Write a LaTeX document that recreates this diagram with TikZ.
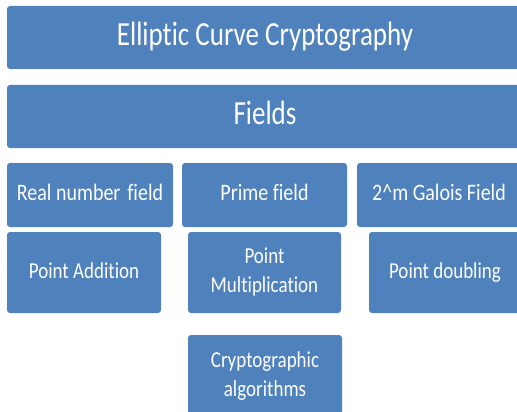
\documentclass[tikz,border=0pt]{standalone}
\usepackage{fontspec}
\setmainfont{Carlito}[Ligatures={NoCommon}]
\usepackage{graphicx}
\definecolor{boxblue}{HTML}{4F81BD}
\newcommand{\vtxt}[2]{\scalebox{1}[#1]{\begin{tabular}{@{}c@{}}#2\end{tabular}}}
\begin{document}
\begin{tikzpicture}[x=1pt,y=-1pt,
  blk/.style={fill=boxblue, rounded corners=3pt, text=white, inner sep=0pt, anchor=center},
  bigtxt/.style={font=\fontsize{27}{32}\selectfont},
  midtxt/.style={font=\fontsize{20}{24}\selectfont},
  smltxt/.style={font=\fontsize{19}{24}\selectfont}]
\useasboundingbox (0,0) rectangle (517,412);
\node[blk, bigtxt, minimum width=516pt, minimum height=63pt] (ecc) at (265,37.5) {\vtxt{1.25}{Elliptic Curve Cryptography}};
\node[blk, bigtxt, minimum width=516pt, minimum height=63pt] (fields) at (265,116.5) {\vtxt{1.25}{Fields}};
\node[blk, midtxt, minimum width=166pt, minimum height=64pt] (real) at (90,195) {\vtxt{1.18}{Real number\hspace{0.12em} field}};
\node[blk, midtxt, minimum width=165pt, minimum height=64pt] (prime) at (264.5,195) {\vtxt{1.18}{Prime field}};
\node[blk, midtxt, minimum width=164pt, minimum height=64pt] (galois) at (439,195) {\vtxt{1.18}{2\^{}m Galois Field}};
\node[blk, smltxt, minimum width=154pt, minimum height=81pt] (padd) at (84,272.5) {\vtxt{1.2}{Point Addition}};
\node[blk, smltxt, minimum width=153pt, minimum height=81pt] (pmul) at (264.5,272.5) {\vtxt{1.2}{Point\\Multiplication}};
\node[blk, smltxt, minimum width=152pt, minimum height=81pt] (pdbl) at (445,272.5) {\vtxt{1.2}{Point doubling}};
\node[blk, smltxt, minimum width=154pt, minimum height=82pt] (crypto) at (265,376) {\vtxt{1.2}{Cryptographic\\algorithms}};
\end{tikzpicture}
\end{document}
